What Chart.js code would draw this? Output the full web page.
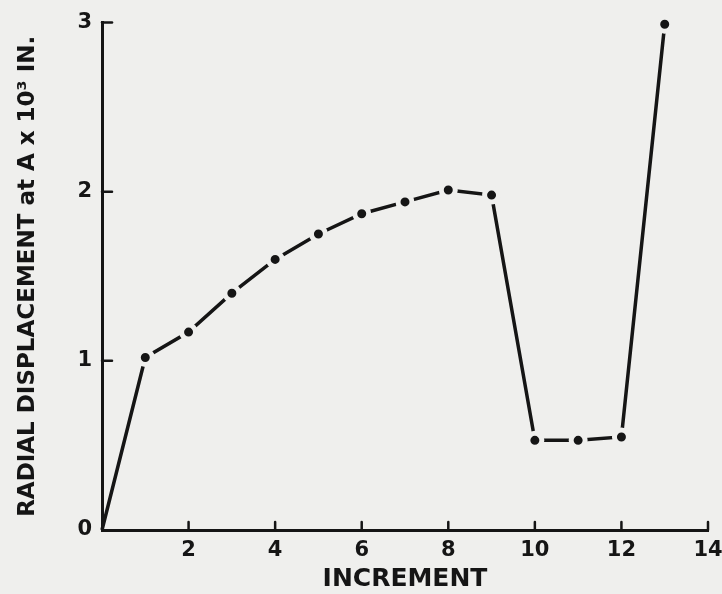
<!DOCTYPE html>
<html>
<head>
<meta charset="utf-8">
<script src="https://cdn.jsdelivr.net/npm/chart.js@4.4.1/dist/chart.umd.min.js"></script>
<style>
  html, body { margin: 0; padding: 0; background: #efefed; }
  #wrap { width: 722px; height: 594px; }
</style>
</head>
<body>
<div id="wrap"><canvas id="grafica"></canvas></div>
<script>
// data
var increments = [0, 1, 2, 3, 4, 5, 6, 7, 8, 9, 10, 11, 12, 13];
var displacement = [0, 1.02, 1.17, 1.40, 1.60, 1.75, 1.87, 1.94, 2.01, 1.98, 0.53, 0.53, 0.55, 2.99];
var xTicks = [2, 4, 6, 8, 10, 12, 14];
var yTicks = [0, 1, 2, 3];

var tinta = '#151515';
var fondo = '#efefed';
var letra = 'DejaVu Sans';

var puntos = [];
for (var i = 0; i < increments.length; i++) {
    puntos.push({ x: increments[i], y: displacement[i] });
}

// small tick marks pointing into the plot, like the hand drawn ones
var marcasDentro = {
    id: 'marcasDentro',
    afterDatasetsDraw: function (chart) {
        var ctx = chart.ctx;
        var sx = chart.scales.x, sy = chart.scales.y;
        var area = chart.chartArea;
        ctx.save();
        ctx.strokeStyle = tinta;
        ctx.lineWidth = 2.5;
        ctx.lineCap = 'round';
        xTicks.forEach(function (v) {
            var px = sx.getPixelForValue(v);
            ctx.beginPath();
            ctx.moveTo(px, area.bottom);
            ctx.lineTo(px, area.bottom - 8);
            ctx.stroke();
        });
        yTicks.forEach(function (v) {
            if (v === 0) return;
            var py = sy.getPixelForValue(v);
            ctx.beginPath();
            ctx.moveTo(area.left, py);
            ctx.lineTo(area.left + 10, py);
            ctx.stroke();
        });
        ctx.restore();
    }
};

var radios = puntos.map(function (p, i) { return i === 0 ? 0 : 7; });

new Chart(document.getElementById('grafica').getContext('2d'), {
    type: 'line',
    data: {
        datasets: [{
            data: puntos,
            borderColor: tinta,
            borderWidth: 3.5,
            pointRadius: radios,
            pointBackgroundColor: tinta,
            pointBorderColor: fondo,
            pointBorderWidth: 5,
            tension: 0,
            clip: false
        }]
    },
    options: {
        responsive: true,
        maintainAspectRatio: false,
        animation: false,
        events: [],
        layout: { padding: { top: 19, right: 14, left: 0, bottom: 0 } },
        plugins: {
            legend: { display: false },
            tooltip: { enabled: false }
        },
        scales: {
            x: {
                type: 'linear',
                min: 0,
                max: 14,
                grid: { display: false, drawTicks: false },
                border: { display: true, width: 3, color: tinta },
                ticks: {
                    stepSize: 2,
                    padding: 8,
                    color: tinta,
                    font: { family: letra, size: 21, weight: 'bold' },
                    callback: function (v) { return v === 0 ? '' : v; }
                },
                title: {
                    display: true,
                    text: 'INCREMENT',
                    color: tinta,
                    font: { family: letra, size: 25, weight: 'bold' },
                    padding: { top: 0, bottom: 0 }
                },
                afterFit: function (scale) {
                    scale.height = 64;
                    scale.paddingRight = 0;
                }
            },
            y: {
                type: 'linear',
                min: 0,
                max: 3,
                grid: { display: false, drawTicks: false },
                border: { display: true, width: 3, color: tinta },
                ticks: {
                    stepSize: 1,
                    padding: 10,
                    color: tinta,
                    font: { family: letra, size: 21, weight: 'bold' }
                },
                title: {
                    display: true,
                    text: 'RADIAL DISPLACEMENT at A x 10³ IN.',
                    color: tinta,
                    font: { family: letra, size: 23, weight: 'bold' },
                    padding: { top: 14, bottom: 0 }
                },
                afterFit: function (scale) { scale.width = 102; }
            }
        }
    },
    plugins: [marcasDentro]
});
</script>
</body>
</html>
